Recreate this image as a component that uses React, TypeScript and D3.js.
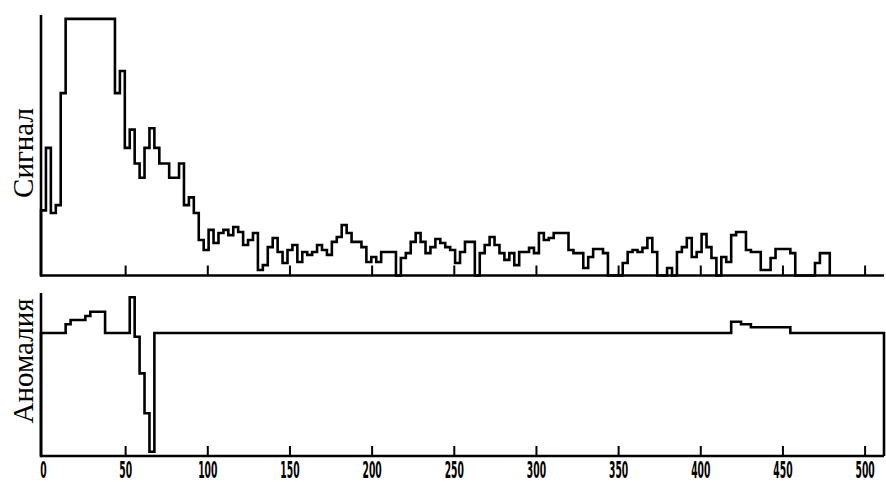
import React from 'react'
import * as d3 from 'd3'

// signal histogram, bins of 3 units centred on 0, 3, 6, ...
const binWidth = 3
const signal = [
  25, 49, 24, 27, 70, 98.5, 98.5, 98.5, 98.5, 98.5,
  98.5, 98.5, 98.5, 98.5, 98.5, 70, 78.5, 49, 56, 43,
  37.5, 49, 56.5, 49, 43, 43, 37.5, 37.5, 43, 27,
  30, 24, 13.6, 9.8, 17.5, 12.5, 16.3, 17.5, 15.5, 18.6,
  16.7, 11.7, 13.6, 16.3, 2.1, 4.0, 10.9, 14.4, 9.0, 4.8,
  9.8, 11.7, 5.2, 9.0, 7.9, 9.0, 11.7, 9.8, 7.9, 12.9,
  14.8, 19.4, 16.3, 12.9, 12.9, 10.9, 5.2, 7.1, 5.2, 9.0,
  9.0, 9.0, 0, 6.7, 8.6, 12.9, 16.3, 12.9, 8.6, 10.9,
  14.0, 12.5, 10.9, 9.8, 4.8, 9.0, 12.9, 12.9, 0, 8.6,
  11.7, 14.8, 11.7, 8.6, 6.0, 8.6, 4.0, 9.0, 9.0, 10.6,
  8.6, 16.3, 13.6, 14.4, 16.3, 16.3, 16.3, 9.8, 8.6, 8.6,
  2.9, 7.1, 10.2, 10.2, 8.6, 0, 0, 0, 4.8, 9.0,
  9.8, 9.0, 10.6, 14.4, 9.0, 0, 0, 2.9, 0, 9.0,
  10.9, 14.4, 7.1, 9.0, 15.9, 10.9, 6.7, 0, 7.1, 5.2,
  15.5, 16.7, 16.7, 9.8, 9.0, 9.0, 2.1, 2.1, 6.7, 10.2,
  10.2, 10.2, 8.6, 0, 0, 0, 0, 4.8, 8.6, 8.6,
]

// anomaly: step function, level between consecutive breaks
const anomalyBreaks = [-1.5, 13.5, 16.5, 25.5, 28.5, 37.5, 52.5, 55.5, 58.5, 61.5, 64.5, 67.5, 418.5, 424.5, 430.5, 454.5, 511.5]
const anomalyLevels = [75.5, 80.8, 83.4, 85.9, 88.5, 75.5, 97.4, 73.2, 50.7, 26.2, 2.6, 75.5, 82.4, 80.8, 79, 75.5]

const xTicks = [0, 50, 100, 150, 200, 250, 300, 350, 400, 450, 500]
const labelTop = 'Сигнал'
const labelBottom = 'Аномалия'

const W = 886
const H = 483
const LW = 2.6

const x = d3.scaleLinear().domain([-1.5, 511.5]).range([41, 884])
const yTop = d3.scaleLinear().domain([0, 100]).range([275.5, 15])
const yBot = d3.scaleLinear().domain([0, 100]).range([456, 293])

type P = { x: number; v: number }

function stepPoints(breaks: number[], levels: number[]): P[] {
  const pts: P[] = [{ x: breaks[0], v: 0 }]
  levels.forEach((v, i) => pts.push({ x: breaks[i], v }))
  pts.push({ x: breaks[breaks.length - 1], v: levels[levels.length - 1] })
  pts.push({ x: breaks[breaks.length - 1], v: 0 })
  return pts
}

const signalBreaks = signal.map((_, i) => i * binWidth - binWidth / 2).concat([signal.length * binWidth - binWidth / 2])

function Panel({ y, pts, label, labelY }: { y: d3.ScaleLinear<number, number>; pts: P[]; label: string; labelY: number }) {
  const line = d3.line<P>().x(d => x(d.x)).y(d => y(d.v)).curve(d3.curveStepAfter)
  const [y0, y1] = y.range()
  const x0 = x.range()[0]
  const x1 = x.range()[1]
  return (
    <g>
      <path d={line(pts) || ''} fill="none" stroke="#000" strokeWidth={LW} strokeLinejoin="miter" />
      <line x1={x0} x2={x0} y1={y1} y2={y0 + LW / 2} stroke="#000" strokeWidth={LW} />
      <line x1={x0} x2={x1} y1={y0} y2={y0} stroke="#000" strokeWidth={LW} />
      {xTicks.filter(t => t > 0).map(t => (
        <line key={t} x1={x(t)} x2={x(t)} y1={y0} y2={y0 - 10} stroke="#000" strokeWidth={2} />
      ))}
      <text
        transform={`translate(33,${labelY}) rotate(-90)`}
        textAnchor="middle"
        fontFamily="'Liberation Serif', 'DejaVu Serif', serif"
        fontSize={29}
        fill="#000"
      >
        {label}
      </text>
    </g>
  )
}

export default function App() {
  return (
    <svg width={W} height={H} style={{ position: 'absolute', left: 0, top: 0, background: '#fff' }}>
      <rect width={W} height={H} fill="#fff" />
      <Panel y={yTop} pts={stepPoints(signalBreaks, signal)} label={labelTop} labelY={153} />
      <Panel y={yBot} pts={stepPoints(anomalyBreaks, anomalyLevels)} label={labelBottom} labelY={361} />
      {xTicks.map(t => (
        <text
          key={t}
          transform={`translate(${x(t)},477.5) scale(0.4,1)`}
          textAnchor="middle"
          fontFamily="'DejaVu Sans', sans-serif"
          fontWeight="bold"
          fontSize={23}
          fill="#000"
        >
          {t}
        </text>
      ))}
    </svg>
  )
}
